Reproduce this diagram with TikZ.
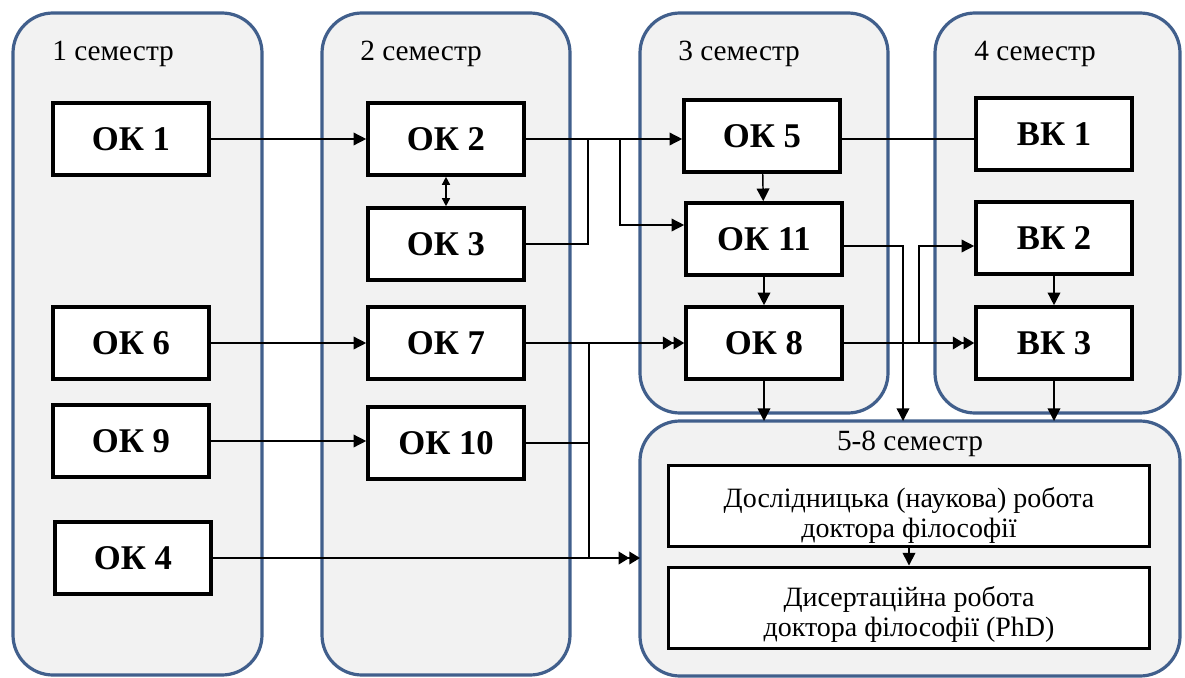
\documentclass[tikz,border=0pt]{standalone}
\usepackage{fontspec}
\setmainfont{Liberation Serif}
\usetikzlibrary{calc,arrows.meta}
\definecolor{panelblue}{RGB}{65,95,140}
\definecolor{panelgray}{RGB}{242,242,242}

\begin{document}
\begin{tikzpicture}[x=0.75pt,y=-0.75pt,
	panel/.style={draw=panelblue,line width=2.4pt,fill=panelgray,rounded corners=30pt,inner sep=0pt,outer sep=0pt},
	ok/.style={draw,line width=2.7pt,fill=white,minimum width=117pt,minimum height=54pt,inner sep=0pt,font=\fontsize{26}{30}\selectfont\bfseries},
	wide/.style={draw,line width=2.7pt,fill=white,minimum width=361pt,minimum height=61pt,inner sep=0pt},
	widetext/.style={align=center,inner sep=0pt,font=\fontsize{21}{22.5}\selectfont},
	sem/.style={anchor=west,inner sep=0pt,font=\fontsize{22}{26}\selectfont},
	line/.style={line width=1.1pt},
	tip/.style={-{Triangle[length=9.5pt,width=9.5pt]}},
	tiptwo/.style={-{Triangle[length=8pt,width=9.5pt]Triangle[length=8pt,width=9.5pt]}}]
			\useasboundingbox (0,0) rectangle (1185,678);
			
			%panels
			\node[panel,minimum width=186.75pt,minimum height=496.5pt] (sem1) at (137.5,344) {};
			\node[panel,minimum width=186pt,minimum height=496.5pt] (sem2) at (446,344) {};
			\node[panel,minimum width=186pt,minimum height=300pt] (sem3) at (764,213) {};
			\node[panel,minimum width=183.75pt,minimum height=300pt] (sem4) at (1057.5,213) {};
			\node[panel,minimum width=405pt,minimum height=191.25pt] (sem58) at (910,548.5) {};
			
			\node[sem] (lbl1) at (52,54) {1 семестр};
			\node[sem] (lbl2) at (360,54) {2 семестр};
			\node[sem] (lbl3) at (678,54) {3 семестр};
			\node[sem] (lbl4) at (974,54) {4 семестр};
			\node[sem,anchor=center] (lbl58) at (910,444) {5-8 семестр};
			
			%boxes
			\node[ok] (ok1) at (131,139) {ОК 1};
			\node[ok] (ok6) at (131,343) {ОК 6};
			\node[ok] (ok9) at (131,441) {ОК 9};
			\node[ok] (ok4) at (133,558) {ОК 4};
			\node[ok] (ok2) at (446,139) {ОК 2};
			\node[ok] (ok3) at (446,244) {ОК 3};
			\node[ok] (ok7) at (446,343) {ОК 7};
			\node[ok] (ok10) at (446,443) {ОК 10};
			\node[ok] (ok5) at (762,136) {ОК 5};
			\node[ok] (ok11) at (764,239) {ОК 11};
			\node[ok] (ok8) at (764,343) {ОК 8};
			\node[ok] (bk1) at (1054,134) {ВК 1};
			\node[ok] (bk2) at (1054,238) {ВК 2};
			\node[ok] (bk3) at (1054,343) {ВК 3};
			\node[wide] (res) at (909,506) {};
			\node[wide] (diss) at (909,608) {};
			\node[widetext] (restext) at ($(res)+(0,9)$) {Дослідницька (наукова) робота\\доктора філософії};
			\node[widetext] (disstext) at ($(diss)+(0,6)$) {Дисертаційна робота\\доктора філософії (PhD)};
			
			%top rows
			\coordinate (j1) at (620,139);
			\coordinate (j2) at (588,139);
			\coordinate (r11) at ($(ok11.east)+(0,7)$);
			\coordinate (d11) at (903,421);
			\coordinate (j4) at (919,343);
			
			\draw[line,tip] (ok1) -- (ok2);
			\draw[line,{Triangle[length=6pt,width=6pt]}-{Triangle[length=6pt,width=6pt]}] (ok2) -- (ok3);
			\draw[line,tip] (ok2.east) -- (ok2.east -| ok5.west);
			\draw[line,tip] (j1) |- ($(ok11.west)+(0,-14)$);
			\draw[line] (ok3.east) -| (j2);
			\draw[line,tip] (ok5) -- (ok11);
			\draw[line,tip] (ok11) -- (ok8);
			\draw[line] (ok5.east |- ok2) -- (ok2 -| bk1.west);
			\draw[line,tip] (r11) -| (d11);
			\draw[line,tiptwo] (ok8) -- (ok8 -| bk3.west);
			\draw[line,tip] (j4) |- (r11 -| bk2.west);
			\draw[line,tip] (bk2) -- (bk3);
			\draw[line,tip] (bk3) -- (bk3 |- sem58.north);
			\draw[line,tip] (ok8) -- (ok8 |- sem58.north);
			
			%bottom rows
			\coordinate (j5) at (589,343);
			
			\draw[line,tip] (ok6) -- (ok7);
			\draw[line,tip] (ok9) -- (ok9 -| ok10.west);
			\draw[line,tiptwo] (ok7) -- (ok8);
			\draw[line] (j5) -- (j5 |- ok4);
			\draw[line] (ok10.east) -- (ok10.east -| j5);
			\draw[line,tiptwo] (ok4) -- (ok4 -| sem58.west);
			\draw[line,tip] (res) -- (diss);
		\end{tikzpicture}
\end{document}
